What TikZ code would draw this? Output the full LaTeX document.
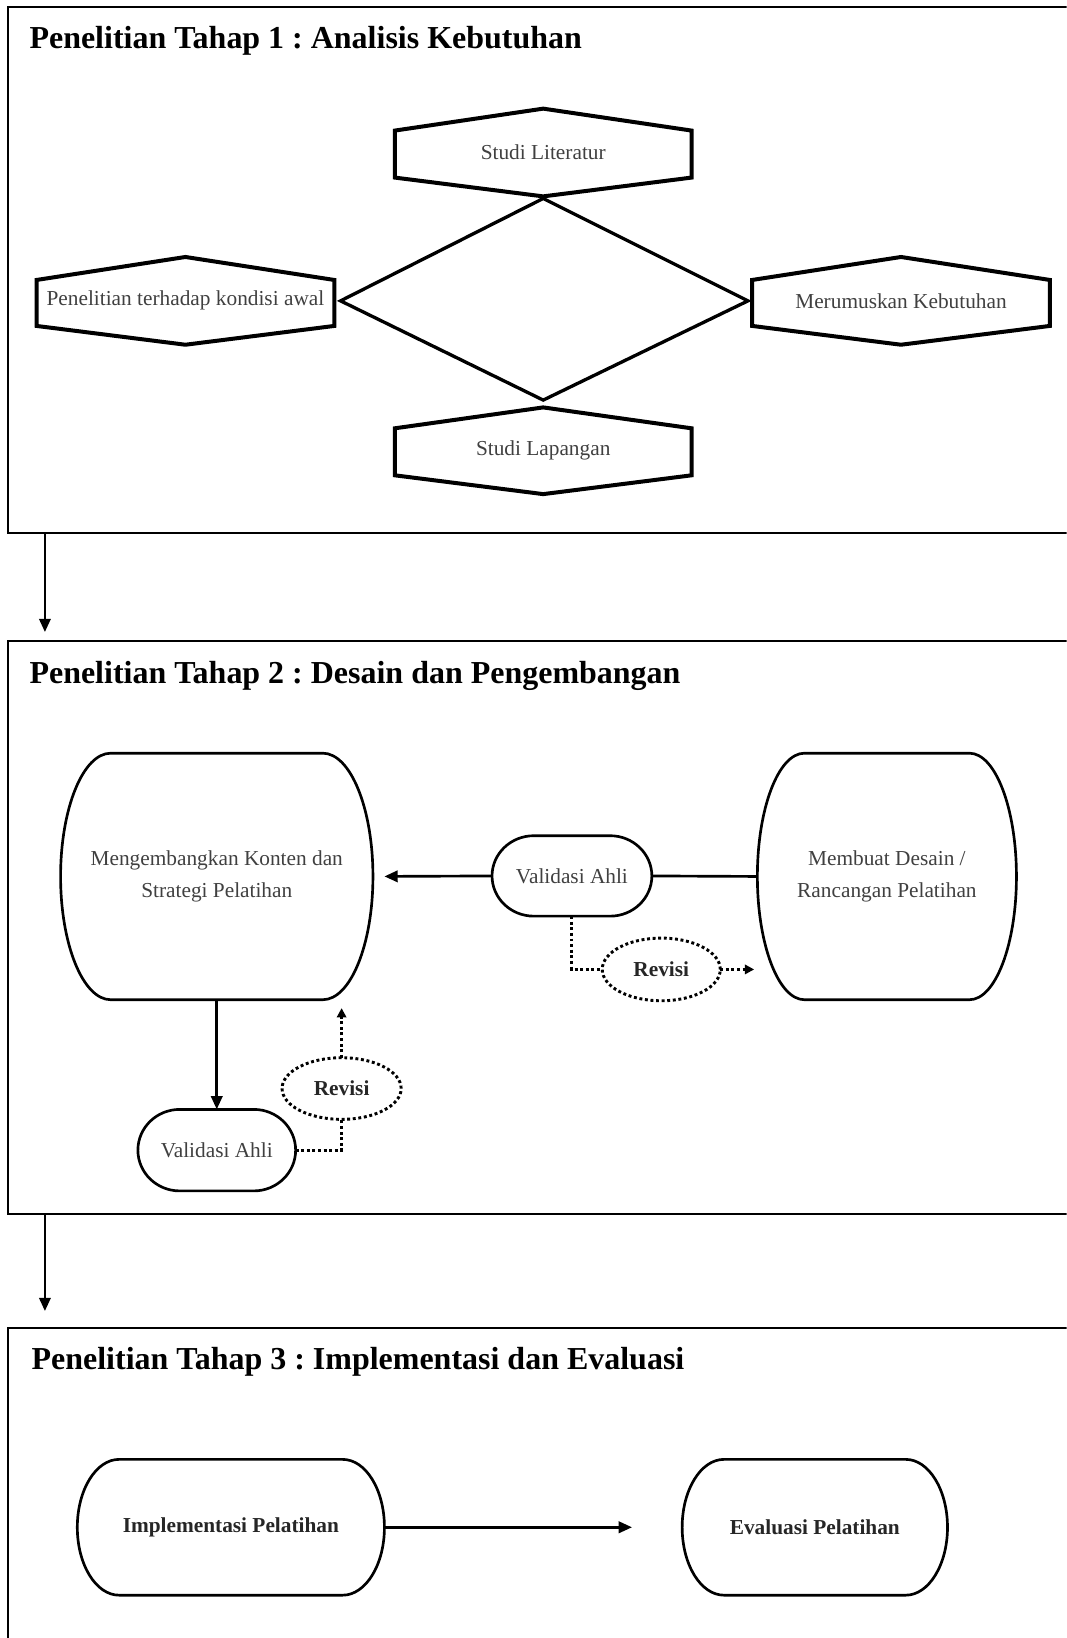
\documentclass[tikz,border=0pt]{standalone}
\usepackage{fontspec}
\setmainfont{Liberation Serif}
\usetikzlibrary{arrows.meta,shapes.geometric,calc}
\frenchspacing
\newcommand\hexnode[8]{%
  \draw[hexline] ({(#2+#3)/2},#4) -- (#3,#5) -- (#3,#6) -- ({(#2+#3)/2},#7) -- (#2,#6) -- (#2,#5) -- cycle;
  \node[ntext,minimum width={(#3-#2)*0.784pt},minimum height={(#7-#4)*0.784pt}] (#1) at ({(#2+#3)/2},{(#4+#7)/2}) {#8};}
\newcommand\barrelnode[8]{%
  \draw[shp] ({#3+#7},#4) -- ({#5-#7},#4)
    .. controls ({#5-0.448*#7},#4) and (#5,{#4+0.224*(#6-#4)}) .. (#5,{(#4+#6)/2})
    .. controls (#5,{#6-0.224*(#6-#4)}) and ({#5-0.448*#7},#6) .. ({#5-#7},#6)
    -- ({#3+#7},#6)
    .. controls ({#3+0.448*#7},#6) and (#3,{#6-0.224*(#6-#4)}) .. (#3,{(#4+#6)/2})
    .. controls (#3,{#4+0.224*(#6-#4)}) and ({#3+0.448*#7},#4) .. cycle;
  \node[#1,minimum width={(#5-#3)*0.784pt},minimum height={(#6-#4)*0.784pt}] (#2) at ({(#3+#5)/2},{(#4+#6)/2}) {#8};}
\begin{document}
\begin{tikzpicture}[x=0.784pt,y=-0.784pt,
  frame/.style={draw,line width=1.5pt,inner sep=0,outer sep=0,anchor=north west},
  title/.style={font=\fontsize{24}{28}\selectfont\bfseries,anchor=base west,inner sep=0},
  hexline/.style={line width=3pt,line join=miter},
  ntext/.style={font=\fontsize{16}{24}\selectfont,text=black!75,align=center,inner sep=0,outer sep=0},
  btext/.style={font=\fontsize{16}{24}\selectfont\bfseries,text=black!85,align=center,inner sep=0,outer sep=0},
  shp/.style={line width=2pt},
  arr/.style={line width=2pt,-{Triangle[length=10pt,width=8.5pt]}},
  dots/.style={line width=2.2pt,dash pattern=on 2.2pt off 2pt},
  dotarr/.style={dots,-{Triangle[length=7pt,width=7pt]}},
  revisi/.style={ellipse,draw,dots,btext},
]
\useasboundingbox (0,0) rectangle (1021,1568);
\clip (0,0) rectangle (1021,1568);
% stage frames
\node[frame,minimum width={1040*0.784pt},minimum height={503*0.784pt}] (b1) at (8,7) {};
\node[frame,minimum width={1040*0.784pt},minimum height={548*0.784pt}] (b2) at (8,614) {};
\node[frame,minimum width={1040*0.784pt},minimum height={400*0.784pt}] (b3) at (8,1271) {};
\node[title] (t1) at (28,46) {Penelitian Tahap 1 : Analisis Kebutuhan};
\node[title] (t2) at (28,654) {Penelitian Tahap 2 : Desain dan Pengembangan};
\node[title] (t3) at (30,1311) {Penelitian Tahap 3 : Implementasi dan Evaluasi};
% stage 1
\draw[line width=2.5pt,line join=miter] (520,190) -- (716,288) -- (520,383) -- (326,288) -- cycle;
\hexnode{hl}{378}{662}{104}{125}{170}{188}{Studi Literatur}
\hexnode{hk}{35}{320}{246}{268}{312}{330}{Penelitian terhadap kondisi awal}
\hexnode{hm}{720}{1005}{246}{268}{312}{330}{Merumuskan Kebutuhan}
\hexnode{hs}{378}{662}{390}{410}{455}{473}{Studi Lapangan}
% stage 2
\barrelnode{ntext}{mk}{58}{721}{357}{957}{48}{Mengembangkan Konten dan\\Strategi Pelatihan}
\barrelnode{ntext}{mb}{725}{721}{973}{957}{45}{Membuat Desain /\\Rancangan Pelatihan}
\barrelnode{ntext}{va}{471}{800}{624}{877}{40}{Validasi Ahli}
\barrelnode{ntext}{vb}{132}{1062}{283}{1140}{40}{Validasi Ahli}
\node[revisi,minimum width={113*0.784pt},minimum height={60*0.784pt}] (ra) at (633,928) {Revisi};
\node[revisi,minimum width={114*0.784pt},minimum height={59*0.784pt}] (rb) at (327,1042) {Revisi};
\draw[arr,shorten >=8.6pt] (va.west) -- (mk.east);
\draw[shp] (va.east) -- (mb.west);
\draw[dots] (va.south) |- (ra.west);
\draw[dotarr,shorten >=2.4pt] (ra.east) -- (ra.east -| mb.west);
\draw[arr] (mk.south) -- (vb.north);
\draw[dots] (vb.east) -| (rb.south);
\draw[dotarr,shorten >=6.3pt] (rb.north) -- (rb.north |- mk.south);
% stage 3
\barrelnode{btext}{ip}{74}{1397}{368}{1527}{40}{Implementasi Pelatihan}
\barrelnode{btext}{ev}{653}{1397}{907}{1527}{40}{Evaluasi Pelatihan}
\draw[arr,shorten >=37.6pt] (ip.east) -- (ev.west);
% stage arrows
\draw[arr,shorten >=7pt] ([xshift=27.44pt]b1.south west) -- ([xshift=27.44pt]b2.north west);
\draw[arr,shorten >=12.5pt] ([xshift=27.44pt]b2.south west) -- ([xshift=27.44pt]b3.north west);
\end{tikzpicture}
\end{document}
